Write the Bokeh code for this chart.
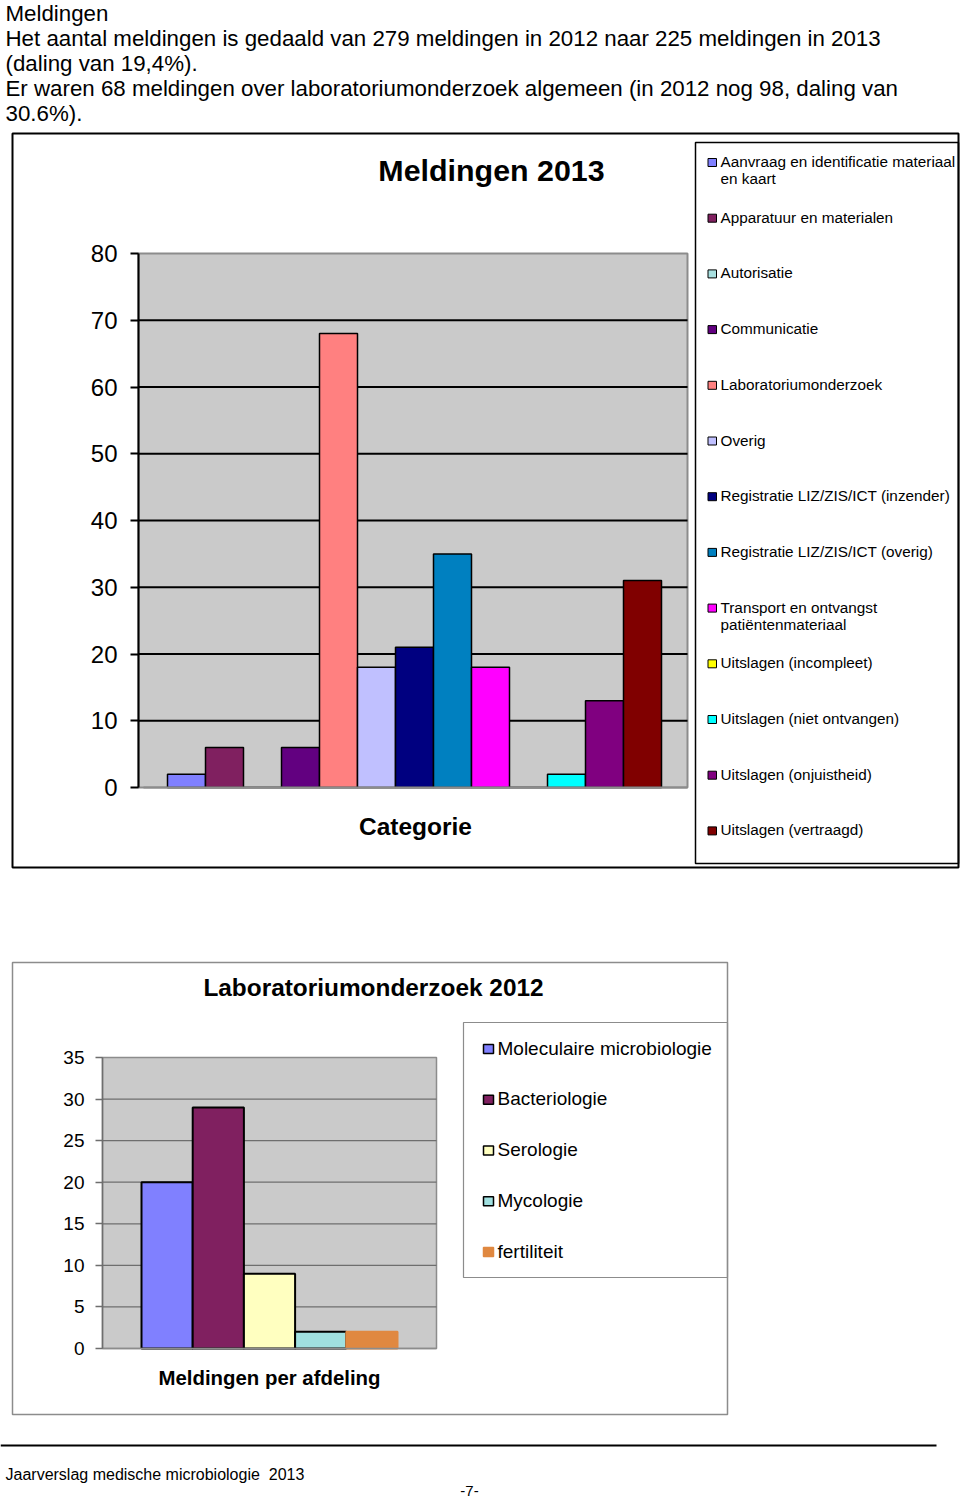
import numpy as np
from bokeh.plotting import figure
from bokeh.models import (Range1d, FixedTicker, ColumnDataSource, Label, BoxAnnotation, LinearAxis)
from bokeh.embed import file_html
from bokeh.resources import INLINE

FONT = "Liberation Sans"

# ---------------- data ----------------
intro_lines = [
    "Meldingen",
    "Het aantal meldingen is gedaald van 279 meldingen in 2012 naar 225 meldingen in 2013",
    "(daling van 19,4%).",
    "Er waren 68 meldingen over laboratoriumonderzoek algemeen (in 2012 nog 98, daling van",
    "30.6%).",
]

chart1_title = "Meldingen 2013"
chart1_category = "Categorie"
series_2013 = [
    "Aanvraag en identificatie materiaal en kaart",
    "Apparatuur en materialen",
    "Autorisatie",
    "Communicatie",
    "Laboratoriumonderzoek",
    "Overig",
    "Registratie LIZ/ZIS/ICT (inzender)",
    "Registratie LIZ/ZIS/ICT (overig)",
    "Transport en ontvangst patiëntenmateriaal",
    "Uitslagen (incompleet)",
    "Uitslagen (niet ontvangen)",
    "Uitslagen (onjuistheid)",
    "Uitslagen (vertraagd)",
]
counts_2013 = [2, 6, 0, 6, 68, 18, 21, 35, 18, 0, 2, 13, 31]
y_ticks_2013 = [0, 10, 20, 30, 40, 50, 60, 70, 80]
legend_wrap_2013 = {
    "Aanvraag en identificatie materiaal en kaart": ["Aanvraag en identificatie materiaal", "en kaart"],
    "Transport en ontvangst patiëntenmateriaal": ["Transport en ontvangst", "patiëntenmateriaal"],
}

chart2_title = "Laboratoriumonderzoek 2012"
chart2_category = "Meldingen per afdeling"
departments_2012 = ["Moleculaire microbiologie", "Bacteriologie", "Serologie", "Mycologie", "fertiliteit"]
counts_2012 = [20, 29, 9, 2, 2]
y_ticks_2012 = [0, 5, 10, 15, 20, 25, 30, 35]

footer_text = "Jaarverslag medische microbiologie \u00a02013"
page_number = "-7-"

# ---------------- styles / layout ----------------
colors_2013 = ["#8080FF", "#802060", "#A8E0E0", "#620080", "#FF8080", "#C0C0FF",
               "#000080", "#0080C0", "#FF00FF", "#FFFF00", "#00FFFF", "#800080", "#800000"]
colors_2012 = ["#8080FF", "#802060", "#FFFFC0", "#A0E0E0", "#E08840"]
outline_2012 = ["black", "black", "black", "black", "#E08840"]
PLOT_BG = "#CACACA"
GRAY = "#8C8C8C"
GRID2 = "#6E6E6E"

W, H = 960, 1503

# chart 1 plot area (page pixels)
C1_L, C1_R, C1_T, C1_B = 138, 687, 253, 787
C1_BAR0, C1_BARW = 167, 38.0
# chart 2 plot area (page pixels)
C2_L, C2_R, C2_T, C2_B = 102, 436, 1057, 1348
C2_BAR0, C2_BARW = 141, 51.2

k1 = (y_ticks_2013[-1] - y_ticks_2013[0]) / (C1_B - C1_T)   # value per pixel
k2 = (y_ticks_2012[-1] - y_ticks_2012[0]) / (C2_B - C2_T)


def x1(px):
    return (px - C1_BAR0) / C1_BARW


def x2(px):
    return (px - C2_BAR0) / C2_BARW


p = figure(width=W, height=H,
           x_range=Range1d(x1(0), x1(W)),
           y_range=Range1d(-(H - C1_B) * k1, y_ticks_2013[-1] + C1_T * k1),
           x_axis_location=None, y_axis_location=None,
           min_border=0, min_border_left=0, min_border_right=0,
           min_border_top=0, min_border_bottom=0,
           output_backend="svg", toolbar_location=None)
p.extra_x_ranges = {"x2": Range1d(x2(0), x2(W))}
p.extra_y_ranges = {"y2": Range1d(-(H - C2_B) * k2, y_ticks_2012[-1] + C2_T * k2)}
p.outline_line_color = None
p.background_fill_color = "white"
p.border_fill_color = "white"
p.grid.visible = False


# ---------- helpers for page-positioned text and boxes (screen units) ----------
def label(cx, cy, text, size, bold=False, align="left", color="black"):
    """cy is the visual centre line of the text (page px from top)."""
    p.add_layout(Label(x=cx, y=H - cy, x_units="screen", y_units="screen", text=text,
                       text_font=FONT, text_font_size=f"{size}px",
                       text_font_style="bold" if bold else "normal",
                       text_align=align, text_baseline="alphabetic", text_color=color))


def box(x0, y0, xx1, yy1, line_color=None, line_width=1, fill=None):
    p.add_layout(BoxAnnotation(left=x0, right=xx1, top=H - y0, bottom=H - yy1,
                               left_units="screen", right_units="screen",
                               top_units="screen", bottom_units="screen",
                               fill_color=fill if fill else "white",
                               fill_alpha=1.0 if fill else 0.0,
                               line_color=line_color if line_color else "black",
                               line_width=line_width,
                               line_alpha=1.0 if line_color else 0.0))


# ================= intro text =================
for i, line in enumerate(intro_lines):
    label(5, 13 + i * 24.9, line, 22.3)

# ================= chart 1 : Meldingen 2013 =================
box(12, 133, 958, 867, line_color="black", line_width=2)
label(491, 169, chart1_title, 30.4, bold=True, align="center")

# plot area
p.quad(left=[x1(C1_L)], right=[x1(C1_R)], bottom=[y_ticks_2013[0]], top=[y_ticks_2013[-1]],
       fill_color=PLOT_BG, line_color=GRAY, line_width=2)
# grid lines
g1 = y_ticks_2013[1:-1]
p.segment(x0=[x1(C1_L)] * len(g1), x1=[x1(C1_R)] * len(g1), y0=g1, y1=g1,
          line_color="black", line_width=2)
# bars
srcA = ColumnDataSource(dict(name=series_2013, count=counts_2013, color=colors_2013,
                             pos=np.arange(len(series_2013)) + 0.5))
p.vbar(x="pos", top="count", bottom=0, width=1.0, source=srcA,
       fill_color="color", line_color="black", line_width=1.5)

ya = LinearAxis(fixed_location=x1(C1_L), bounds=(y_ticks_2013[0], y_ticks_2013[-1]),
                ticker=FixedTicker(ticks=y_ticks_2013))
ya.major_label_text_font = FONT
ya.major_label_text_font_size = "24px"
ya.major_label_text_color = "black"
ya.major_label_standoff = 13
ya.major_tick_in = 0
ya.major_tick_out = 8
ya.major_tick_line_width = 2
ya.major_tick_line_color = "black"
ya.minor_tick_in = 0
ya.minor_tick_out = 0
ya.axis_line_color = "black"
ya.axis_line_width = 2
p.add_layout(ya, "left")

xa = LinearAxis(fixed_location=y_ticks_2013[0], bounds=(x1(C1_L + 5), x1(C1_R)),
                ticker=FixedTicker(ticks=[]))
xa.axis_line_color = GRAY
xa.axis_line_width = 2
xa.major_tick_in = 0
xa.major_tick_out = 0
xa.minor_tick_in = 0
xa.minor_tick_out = 0
xa.axis_label = chart1_category
xa.axis_label_text_font = FONT
xa.axis_label_text_font_size = "24.5px"
xa.axis_label_text_font_style = "bold"
xa.axis_label_text_color = "black"
xa.axis_label_standoff = 25
p.add_layout(xa, "below")

# legend
box(695, 142, 958, 863, line_color="black", line_width=1.5)
for i, (name, col) in enumerate(zip(series_2013, colors_2013)):
    cy = 161.5 + i * 55.7
    box(707.5, cy - 3.5, 716, cy + 4.5, line_color="black", line_width=1, fill=col)
    for j, t in enumerate(legend_wrap_2013.get(name, [name])):
        label(720, cy - 0.5 + j * 17, t, 15.3)

# ================= chart 2 : Laboratoriumonderzoek 2012 =================
box(12, 962, 727, 1414, line_color=GRAY, line_width=1.5)
label(373, 987, chart2_title, 24.4, bold=True, align="center")

p.quad(left=[x2(C2_L)], right=[x2(C2_R)], bottom=[y_ticks_2012[0]], top=[y_ticks_2012[-1]],
       fill_color=PLOT_BG, line_color=GRAY, line_width=1.5,
       x_range_name="x2", y_range_name="y2")
g2 = y_ticks_2012[1:-1]
p.segment(x0=[x2(C2_L)] * len(g2), x1=[x2(C2_R)] * len(g2), y0=g2, y1=g2,
          line_color=GRID2, line_width=1.2, x_range_name="x2", y_range_name="y2")
srcB = ColumnDataSource(dict(name=departments_2012, count=counts_2012, color=colors_2012,
                             outline=outline_2012, pos=np.arange(len(departments_2012)) + 0.5))
p.vbar(x="pos", top="count", bottom=0, width=1.0, source=srcB,
       fill_color="color", line_color="outline", line_width=2,
       x_range_name="x2", y_range_name="y2")

yb = LinearAxis(x_range_name="x2", y_range_name="y2",
                fixed_location=x2(C2_L), bounds=(y_ticks_2012[0], y_ticks_2012[-1]),
                ticker=FixedTicker(ticks=y_ticks_2012))
yb.major_label_text_font = FONT
yb.major_label_text_font_size = "19px"
yb.major_label_text_color = "black"
yb.major_label_standoff = 11
yb.major_tick_in = 0
yb.major_tick_out = 7
yb.major_tick_line_width = 1.5
yb.major_tick_line_color = GRID2
yb.minor_tick_in = 0
yb.minor_tick_out = 0
yb.axis_line_color = GRID2
yb.axis_line_width = 1.5
p.add_layout(yb, "left")

xb = LinearAxis(x_range_name="x2", y_range_name="y2",
                fixed_location=y_ticks_2012[0], bounds=(x2(C2_L), x2(C2_R)),
                ticker=FixedTicker(ticks=[]))
xb.axis_line_color = GRAY
xb.axis_line_width = 1.5
xb.major_tick_in = 0
xb.major_tick_out = 0
xb.minor_tick_in = 0
xb.minor_tick_out = 0
xb.axis_label = chart2_category
xb.axis_label_text_font = FONT
xb.axis_label_text_font_size = "20.4px"
xb.axis_label_text_font_style = "bold"
xb.axis_label_text_color = "black"
xb.axis_label_standoff = 18
p.add_layout(xb, "below")

box(463, 1022, 727, 1277, line_color=GRAY, line_width=1.2)
for i, (name, col, oc) in enumerate(zip(departments_2012, colors_2012, outline_2012)):
    cy = 1048.5 + i * 50.75
    box(483, cy - 4.5, 493, cy + 4.5, line_color=oc, line_width=1.5, fill=col)
    label(497, cy - 1, name, 19)

# ================= footer =================
box(0, 1444, 936, 1446, fill="black")
label(5, 1474, footer_text, 16)
label(469, 1490, page_number, 15, align="center")

open("out.html", "w").write(file_html(p, INLINE))
